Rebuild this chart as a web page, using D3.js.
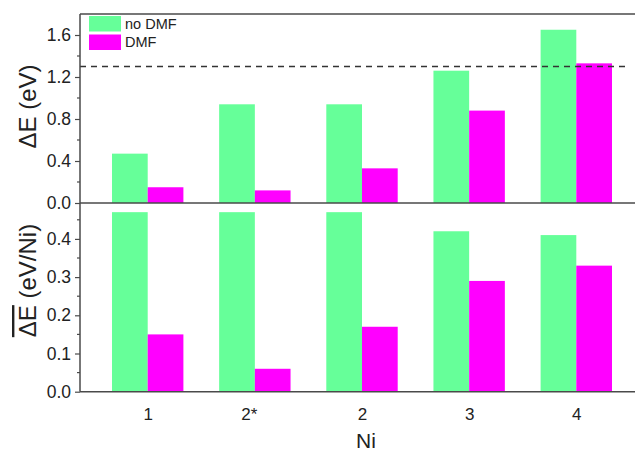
<!DOCTYPE html>
<html>
<head>
<meta charset="utf-8">
<script src="https://cdn.jsdelivr.net/npm/d3@7"></script>
<style>
  html, body { margin: 0; padding: 0; background: #fff; }
  svg { display: block; font-family: "Liberation Sans", Arial, sans-serif; }
</style>
</head>
<body>
<svg id="chart" width="635" height="451"></svg>
<script>
// Ni cluster sizes on the x axis
const categories = ["1", "2*", "2", "3", "4"];
// Total binding energy ΔE (eV)
const noDmfTotal = [0.47, 0.94, 0.94, 1.26, 1.65];
const dmfTotal   = [0.15, 0.12, 0.33, 0.88, 1.33];
// Binding energy per Ni atom (eV/Ni)
const noDmfPerNi = [0.47, 0.47, 0.47, 0.42, 0.41];
const dmfPerNi   = [0.15, 0.06, 0.17, 0.29, 0.33];
// Reference level drawn as dashed line in the upper panel
const thresholdLine = [1.3];
// Tick values
const topTicks = [0.0, 0.4, 0.8, 1.2, 1.6];
const topMinor = [0.2, 0.6, 1.0, 1.4];
const botTicks = [0.0, 0.1, 0.2, 0.3, 0.4];
const botMinor = [0.05, 0.15, 0.25, 0.35, 0.45];
const seriesNames = ["no DMF", "DMF"];
const colors = ["#66ff99", "#ff00ff"];

const svg = d3.select("#chart");
const left = 80, right = 635;
const axisColor = "#4a4a4a";

const x = d3.scalePoint().domain(categories).range([147.7, 576.3]);
const barW = 35.7;

const yTop = d3.scaleLinear().domain([0, 1.8]).range([203, 14]);
const yBot = d3.scaleLinear().domain([0, 0.494]).range([391.7, 203]);

function drawBars(y, a, b) {
  const g = svg.append("g");
  [a, b].forEach((vals, s) => {
    g.selectAll(null).data(vals).enter().append("rect")
      .attr("x", (d, i) => x(categories[i]) + (s === 0 ? -barW : 0))
      .attr("width", barW)
      .attr("y", d => y(d))
      .attr("height", d => y(0) - y(d))
      .attr("fill", colors[s]);
  });
}
drawBars(yTop, noDmfTotal, dmfTotal);
drawBars(yBot, noDmfPerNi, dmfPerNi);

// dashed reference line
svg.selectAll(null).data(thresholdLine).enter().append("line")
  .attr("x1", left).attr("x2", 630)
  .attr("y1", d => yTop(d)).attr("y2", d => yTop(d))
  .attr("stroke", "#333").attr("stroke-width", 1.3)
  .attr("stroke-dasharray", "6,5");

function leftAxis(y, ticks, minor) {
  const g = svg.append("g").attr("transform", `translate(${left},0)`);
  g.call(d3.axisLeft(y).tickValues(ticks).tickFormat(d3.format(".1f"))
      .tickSize(5).tickPadding(4));
  g.select(".domain").remove();
  g.selectAll(".tick line").attr("stroke", axisColor).attr("stroke-width", 1.2);
  g.selectAll(".tick text").attr("font-size", 17.5).attr("fill", "#222")
    .attr("font-family", "Liberation Sans, Arial, sans-serif");
  g.selectAll(null).data(minor).enter().append("line")
    .attr("x1", -3).attr("x2", 0)
    .attr("y1", d => y(d)).attr("y2", d => y(d))
    .attr("stroke", axisColor).attr("stroke-width", 1.2);
}
leftAxis(yTop, topTicks, topMinor);
leftAxis(yBot, botTicks, botMinor);

// frame lines
const lineAttr = sel => sel.attr("stroke", axisColor).attr("stroke-width", 1.5);
svg.append("line").attr("x1", left).attr("x2", left).attr("y1", yTop.range()[1]).attr("y2", yBot(0)).call(lineAttr);
svg.append("line").attr("x1", left).attr("x2", right).attr("y1", yTop.range()[1]).attr("y2", yTop.range()[1]).call(lineAttr);
svg.append("line").attr("x1", left).attr("x2", right).attr("y1", yTop(0)).attr("y2", yTop(0)).call(lineAttr);

// bottom category axis
const xg = svg.append("g").attr("transform", `translate(0,${yBot(0)})`);
xg.call(d3.axisBottom(x).tickSize(0).tickPadding(16));
xg.select(".domain").remove();
xg.selectAll(".tick text").attr("font-size", 17).attr("fill", "#222")
  .attr("font-family", "Liberation Sans, Arial, sans-serif")
  .attr("dx", d => d === "2*" ? -6 : 0);
svg.append("line").attr("x1", left).attr("x2", right).attr("y1", yBot(0)).attr("y2", yBot(0)).call(lineAttr);

// axis titles
svg.append("text").attr("x", 366).attr("y", 448).attr("text-anchor", "middle")
  .attr("font-size", 21).attr("fill", "#222").text("Ni");

svg.append("text").attr("transform", `translate(36,${(65 + 148) / 2}) rotate(-90)`)
  .attr("text-anchor", "middle").attr("font-size", 24).attr("fill", "#222")
  .text("ΔE (eV)");

const bt = svg.append("text").attr("transform", `translate(36,${(223 + 338) / 2}) rotate(-90)`)
  .attr("text-anchor", "middle").attr("font-size", 24).attr("fill", "#222");
bt.append("tspan").style("text-decoration", "overline").text("ΔE");
bt.append("tspan").text(" (eV/Ni)");

// legend
const lg = svg.append("g").attr("transform", "translate(89,16)");
seriesNames.forEach((name, i) => {
  lg.append("rect").attr("x", 0).attr("y", i * 18.5).attr("width", 32).attr("height", 15.5)
    .attr("fill", colors[i]);
  lg.append("text").attr("x", 36).attr("y", i * 18.5 + 12.5)
    .attr("font-size", 14.5).attr("fill", "#222").text(name);
});
</script>
</body>
</html>
